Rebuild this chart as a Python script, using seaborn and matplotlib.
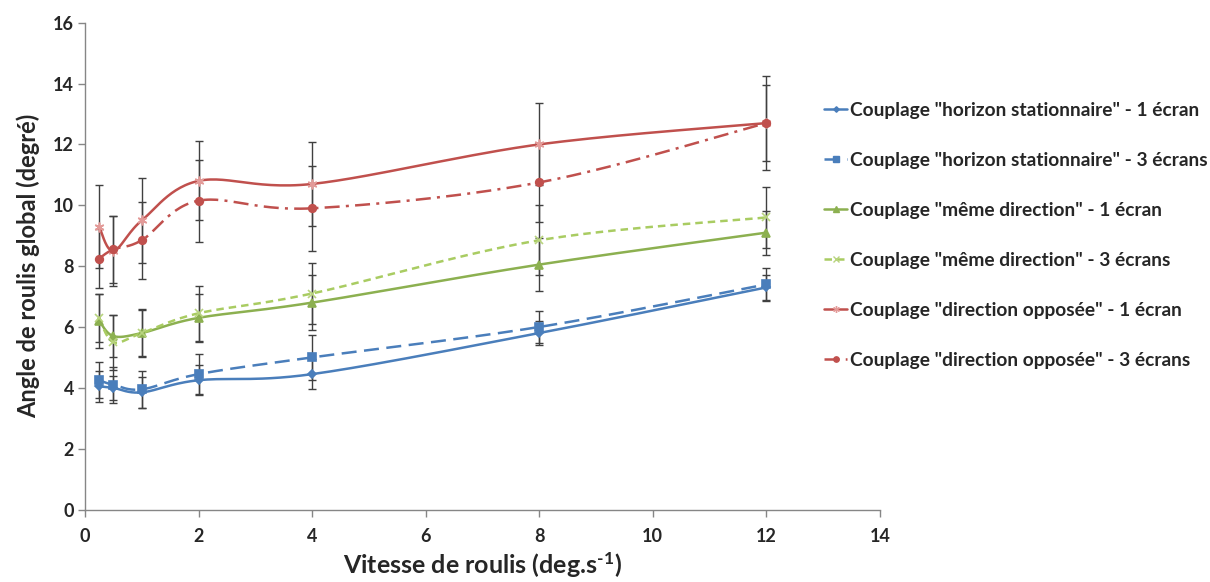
import numpy as np
import matplotlib
matplotlib.use("Agg")
import matplotlib.pyplot as plt
import seaborn as sns
import pandas as pd

# ---- data ----
vitesse = [0.25, 0.5, 1, 2, 4, 8, 12]

hs1 = [4.05, 4.0, 3.85, 4.25, 4.45, 5.8, 7.3]
hs1_err = [0.5, 0.4, 0.5, 0.5, 0.5, 0.4, 0.42]
hs3 = [4.25, 4.1, 3.95, 4.45, 5.0, 6.0, 7.4]
hs3_err = [0.6, 0.6, 0.6, 0.65, 0.73, 0.53, 0.55]
md1 = [6.2, 5.7, 5.8, 6.3, 6.8, 8.05, 9.1]
md1_err = [0.9, 0.7, 0.75, 0.78, 0.9, 0.87, 0.72]
md3 = [6.3, 5.5, 5.8, 6.45, 7.1, 8.85, 9.6]
md3_err = [0.8, 0.9, 0.8, 0.9, 1.0, 1.15, 1.0]
do1 = [9.3, 8.5, 9.5, 10.8, 10.7, 12.0, 12.7]
do1_err = [1.35, 1.15, 1.4, 1.3, 1.38, 1.35, 1.55]
do3 = [8.25, 8.55, 8.85, 10.15, 9.9, 10.75, 12.7]
do3_err = [0.96, 1.1, 1.27, 1.35, 1.4, 1.3, 1.25]

labels = [
    'Couplage "horizon stationnaire" - 1 écran',
    'Couplage "horizon stationnaire" - 3 écrans',
    'Couplage "même direction" - 1 écran',
    'Couplage "même direction" - 3 écrans',
    'Couplage "direction opposée" - 1 écran',
    'Couplage "direction opposée" - 3 écrans',
]
x_ticks = [0, 2, 4, 6, 8, 10, 12, 14]
y_ticks = [0, 2, 4, 6, 8, 10, 12, 14, 16]

series = [hs1, hs3, md1, md3, do1, do3]
errors = [hs1_err, hs3_err, md1_err, md3_err, do1_err, do3_err]

# ---- styles ----
styles = [
    dict(color="#4A7EBB", ls="-", marker="D", ms=4, mfc="#4A7EBB", mec="#4A7EBB"),
    dict(color="#4A7EBB", ls=(0, (6, 3)), marker="s", ms=6, mfc="#4A7EBB", mec="#4A7EBB"),
    dict(color="#8CB050", ls="-", marker="^", ms=5.5, mfc="#8CB050", mec="#8CB050"),
    dict(color="#A9CC62", ls=(0, (3, 2)), marker="x", ms=6, mfc="#A9CC62", mec="#B8D47E"),
    dict(color="#C0504D", ls="-", marker=(6, 2, 0), ms=7, mfc="#E39A98", mec="#E39A98"),
    dict(color="#C0504D", ls=(0, (6, 2.5, 1.2, 2.5)), marker="o", ms=5.5, mfc="#C0504D", mec="#C0504D"),
]

sns.set_style("white")
plt.rcParams["font.family"] = ["Lato", "DejaVu Sans"]
plt.rcParams["font.weight"] = "bold"
plt.rcParams["mathtext.fontset"] = "custom"
plt.rcParams["mathtext.rm"] = "Lato:bold"
plt.rcParams["mathtext.bf"] = "Lato:bold"
plt.rcParams["mathtext.it"] = "Lato:bold"

fig = plt.figure(figsize=(12.1, 5.82), dpi=100)
ax = fig.add_axes([0.0702, 0.1245, 0.657, 0.8365])


def smooth(x, y, n=30):
    pts = np.column_stack([x, y]).astype(float)
    P = np.vstack([pts[0], pts, pts[-1]])
    segs = []
    t = np.linspace(0, 1, n)[:, None]
    for i in range(1, len(P) - 2):
        p0, p1, p2, p3 = P[i - 1], P[i], P[i + 1], P[i + 2]
        c1 = p1 + (p2 - p0) / 6.0
        c2 = p2 - (p3 - p1) / 6.0
        b = (1 - t) ** 3 * p1 + 3 * (1 - t) ** 2 * t * c1 + 3 * (1 - t) * t ** 2 * c2 + t ** 3 * p2
        segs.append(b if i == 1 else b[1:])
    c = np.vstack(segs)
    return c[:, 0], c[:, 1]


# error bars
for vals, err in zip(series, errors):
    ax.errorbar(vitesse, vals, yerr=err, fmt="none", ecolor="#404040",
                elinewidth=1.0, capsize=3, capthick=1.0, zorder=2)

handles = []
for vals, lab, st in zip(series, labels, styles):
    sx, sy = smooth(vitesse, vals)
    ax.plot(sx, sy, color=st["color"], ls=st["ls"], lw=1.8, zorder=3)
    df = pd.DataFrame({"x": vitesse, "y": vals})
    ax.plot(df["x"], df["y"], ls="none", marker=st["marker"], ms=st["ms"],
            mfc=st["mfc"], mec=st["mec"], mew=1.2, zorder=4)
    h, = ax.plot([], [], color=st["color"], ls=st["ls"], lw=1.8,
                 marker=st["marker"], ms=st["ms"] * 0.7, mfc=st["mfc"], mec=st["mec"], label=lab)
    handles.append(h)

ax.set_xlim(0, 14)
ax.set_ylim(0, 16)
ax.set_xticks(x_ticks)
ax.set_yticks(y_ticks)
ax.set_xticklabels([str(v) for v in x_ticks], fontsize=13, fontweight="bold")
ax.set_yticklabels([str(v) for v in y_ticks], fontsize=13, fontweight="bold")
ax.tick_params(axis="both", direction="out", length=5, width=1, color="#868686",
               left=True, bottom=True)
ax.tick_params(axis="y", pad=3)
ax.tick_params(axis="x", pad=8)
for s in ["top", "right"]:
    ax.spines[s].set_visible(False)
for s in ["left", "bottom"]:
    ax.spines[s].set_color("#868686")
    ax.spines[s].set_linewidth(1)

ax.set_xlabel("Vitesse de roulis (deg.s$^{\\text{-1}}$)", fontsize=18, fontweight="bold", labelpad=4)
ax.set_ylabel("Angle de roulis global (degré)", fontsize=17, fontweight="bold", labelpad=9)

leg = fig.legend(handles=handles, loc="center left", bbox_to_anchor=(0.667, 0.596),
                 frameon=False, handlelength=1.2, handletextpad=0.15,
                 labelspacing=1.72, prop={"weight": "bold", "size": 13.8})

fig.savefig("out.png", dpi=100)
